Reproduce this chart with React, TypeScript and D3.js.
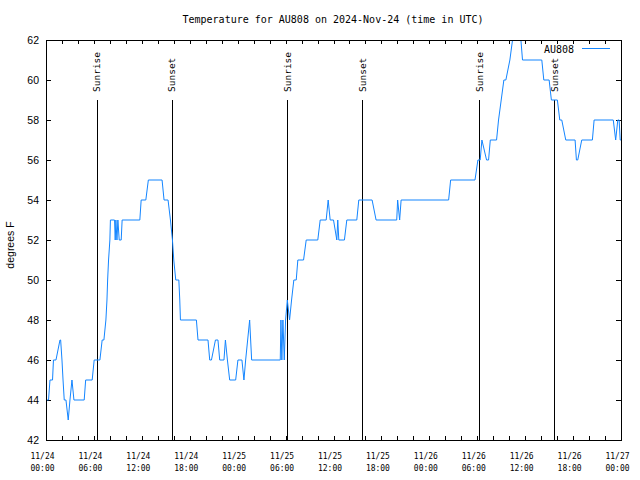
import React from "react";
import * as d3 from "d3";

// minutes since 2024-11-24 00:00 UTC
const timesMin: number[] = [
  8, 19, 30, 49, 56, 75, 105, 110, 120, 128, 137, 150, 167, 180, 195, 210,
  287, 298, 347, 362, 405, 422, 435, 450, 458, 463, 470, 480, 484,
  515, 520, 525, 533, 540, 550, 565, 572, 705, 715, 750, 769, 872, 887, 917,
  935, 950, 960, 975, 998, 1005, 1010, 1130, 1142, 1217, 1230, 1243, 1273, 1292,
  1305, 1337, 1348, 1363, 1380, 1425, 1442, 1472, 1487, 1500, 1515, 1530, 1545,
  1760, 1765, 1772, 1780, 1790, 1800, 1813, 1830, 1845, 1862, 1880, 1892, 1935,
  1955, 2042, 2060, 2105, 2120, 2135, 2160, 2185, 2192, 2200, 2242, 2260, 2335,
  2350, 2450, 2480, 2635, 2642, 2657, 2668, 3025, 3040, 3223, 3245, 3262, 3275,
  3310, 3325, 3338, 3385, 3400, 3420, 3440, 3455, 3485, 3505, 3514, 3555, 3568,
  3580, 3725, 3740, 3780, 3797, 3842, 3860, 3875, 3905, 3975, 3985, 3995, 4025,
  4105, 4118, 4262, 4280, 4296, 4306, 4314, 4320,
];
const tempsF: number[] = [
  44, 44, 45, 45, 46, 46, 47, 47, 46, 45, 44, 44, 43, 44, 45, 44,
  44, 45, 45, 46, 46, 47, 47, 48, 49, 50, 51, 52, 53,
  53, 52, 53, 52, 53, 52, 52, 53, 53, 54, 54, 55, 55, 54, 54,
  53, 52, 51, 50, 50, 49, 48, 48, 47, 47, 46, 46, 47, 47,
  46, 46, 47, 46, 45, 45, 46, 46, 45, 46, 47, 48, 46,
  46, 48, 46, 48, 46, 48, 49, 48, 49, 50, 50, 51, 51,
  52, 52, 53, 53, 54, 53, 53, 52, 53, 52, 52, 53, 53,
  54, 54, 53, 53, 54, 53, 54, 54, 55, 55, 56, 56, 57,
  56, 56, 57, 57, 58, 59, 60, 60, 61, 62, 63, 63, 62,
  61, 61, 60, 60, 59, 59, 58, 58, 57, 57, 56, 56, 57,
  57, 58, 58, 57, 58, 58, 57, 57,
];

const sunEventsMin: number[] = [381, 944, 1813, 2376, 3255, 3819];
const sunEventLabels: string[] = ["Sunrise", "Sunset", "Sunrise", "Sunset", "Sunrise", "Sunset"];

const xTickDates: string[] = ["11/24", "11/24", "11/24", "11/24", "11/25", "11/25", "11/25", "11/25", "11/26", "11/26", "11/26", "11/26", "11/27"];
const xTickTimes: string[] = ["00:00", "06:00", "12:00", "18:00", "00:00", "06:00", "12:00", "18:00", "00:00", "06:00", "12:00", "18:00", "00:00"];
const yTicks: number[] = [42, 44, 46, 48, 50, 52, 54, 56, 58, 60, 62];

const title = "Temperature for AU808 on 2024-Nov-24 (time in UTC)";
const seriesName = "AU808";
const yLabel = "degrees F";

const W = 640, H = 480;
const L = 46, R = 621, T = 40, B = 440;
const BLUE = "#1385ff";
const MONO = "'DejaVu Sans Mono', monospace";
const SANS = "'Liberation Sans', Arial, sans-serif";

export default function App() {
  const x = d3.scaleLinear().domain([0, 4320]).range([L, R]);
  const y = d3.scaleLinear().domain([42, 62]).range([B, T]);
  const pts = timesMin.map((t, i) => [t, tempsF[i]] as [number, number]);
  const line = d3.line<[number, number]>().x((d) => x(d[0])).y((d) => y(d[1]));
  const minorTicks = d3.range(0, 4320 + 1, 120);
  const majorTicks = d3.range(0, 4320 + 1, 360);
  const c = (v: number) => Math.round(v) + 0.5;

  return (
    <svg width={W} height={H} style={{ position: "fixed", left: 0, top: 0, background: "#fff" }}>
      <defs>
        <clipPath id="plot">
          <rect x={L} y={T} width={R - L + 1} height={B - T + 1} />
        </clipPath>
      </defs>
      <rect x={0} y={0} width={W} height={H} fill="#fff" />
      <text x={333} y={23} textAnchor="middle" fontFamily={MONO} fontSize={10} fill="#000">{title}</text>

      {/* ticks */}
      {minorTicks.map((t) => (
        <g key={"xt" + t}>
          <line x1={c(x(t))} x2={c(x(t))} y1={B} y2={B - 4} stroke="#000" />
          <line x1={c(x(t))} x2={c(x(t))} y1={T} y2={T + 4} stroke="#000" />
        </g>
      ))}
      {yTicks.map((v) => (
        <g key={"yt" + v}>
          <line x1={L} x2={L + 5} y1={c(y(v))} y2={c(y(v))} stroke="#000" />
          <line x1={R - 5} x2={R} y1={c(y(v))} y2={c(y(v))} stroke="#000" />
          <text x={39} y={y(v) + 4} textAnchor="end" fontFamily={SANS} fontSize={10.5} fill="#000">{v}</text>
        </g>
      ))}
      {majorTicks.map((t, i) => (
        <g key={"xl" + t}>
          <text x={x(t) - 3.5} y={458.5} textAnchor="middle" fontFamily={MONO} fontSize={9.5} textLength={24} lengthAdjust="spacingAndGlyphs" fill="#000">{xTickDates[i]}</text>
          <text x={x(t) - 3.5} y={470.5} textAnchor="middle" fontFamily={MONO} fontSize={9.5} textLength={24} lengthAdjust="spacingAndGlyphs" fill="#000">{xTickTimes[i]}</text>
        </g>
      ))}

      <text transform={`translate(14,245) rotate(-90)`} textAnchor="middle" fontFamily={SANS} fontSize={10.5} fill="#000">{yLabel}</text>

      {/* sunrise / sunset */}
      {sunEventsMin.map((t, i) => (
        <g key={"sun" + i}>
          <line x1={c(x(t))} x2={c(x(t))} y1={100} y2={B} stroke="#000" />
          <text transform={`translate(${x(t) + 3.5},92) rotate(-90)`} textAnchor="start" fontFamily={MONO} fontSize={9.5} fill="#000">{sunEventLabels[i]}</text>
        </g>
      ))}

      <path d={line(pts) || ""} fill="none" stroke={BLUE} strokeWidth={1} clipPath="url(#plot)" />

      {/* legend */}
      <text x={574} y={53} textAnchor="end" fontFamily={MONO} fontSize={10} fill="#000">{seriesName}</text>
      <line x1={582} x2={610} y1={48.5} y2={48.5} stroke={BLUE} />

      <rect x={L + 0.5} y={T + 0.5} width={R - L} height={B - T} fill="none" stroke="#000" />
    </svg>
  );
}
